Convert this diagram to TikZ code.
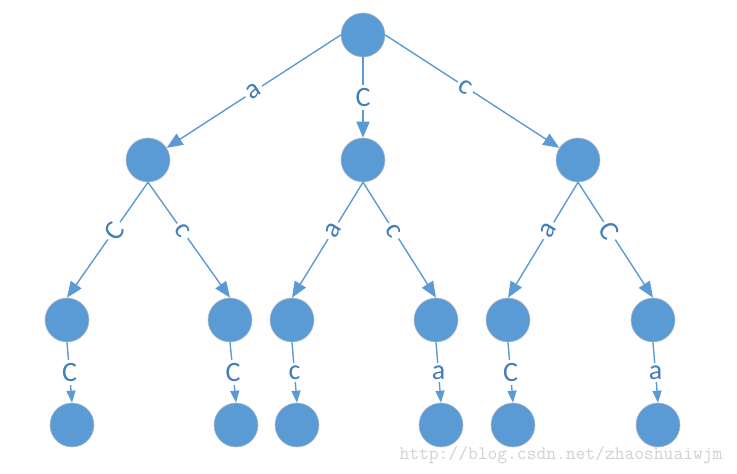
\documentclass[tikz,border=0pt]{standalone}
\usepackage{fontspec}
\setmainfont{Carlito}
\usetikzlibrary{arrows.meta}
\definecolor{nodeblue}{RGB}{91,155,213}
\definecolor{labelblue}{RGB}{66,125,188}
\definecolor{rimgray}{RGB}{175,185,200}
\tikzset{
  trienode/.style={circle,fill=nodeblue,draw=rimgray,line width=0.6pt,minimum size=44pt,inner sep=0pt},
  edge/.style={draw=nodeblue,line width=1.4pt,-{Triangle[length=16pt,width=13pt]}},
  sedge/.style={draw=nodeblue,line width=1.4pt,-{Triangle[length=12pt,width=9pt]}},
  lab/.style={fill=white,text=labelblue,inner sep=3pt,font=\fontsize{28}{32}\selectfont}
}
\begin{document}
\begin{tikzpicture}[x=1pt,y=1pt]
    \useasboundingbox (0,0) rectangle (737,474);
    % root and first level
    \node[trienode] (root) at (363,439) {};
    \node[trienode] (a) at (148,314) {};
    \node[trienode] (b) at (363,314) {};
    \node[trienode] (c) at (578,314) {};
    % second level
    \node[trienode] (a1) at (67,154) {};
    \node[trienode] (a2) at (230,154) {};
    \node[trienode] (b1) at (292,154) {};
    \node[trienode] (b2) at (436,154) {};
    \node[trienode] (c1) at (508,154) {};
    \node[trienode] (c2) at (653,154) {};
    % third level
    \node[trienode] (a1x) at (72,49) {};
    \node[trienode] (a2x) at (236,49) {};
    \node[trienode] (b1x) at (297,49) {};
    \node[trienode] (b2x) at (441,49) {};
    \node[trienode] (c1x) at (513,49) {};
    \node[trienode] (c2x) at (658,49) {};
    % edges from the root
    \draw[edge] (root.west) -- node[lab,sloped,pos=0.5] {a} (a);
    \draw[edge] (root.south) -- node[lab] {C} (b.north);
    \draw[edge] (root.east) -- node[lab,sloped,pos=0.46] {c} (c);
    % edges to the second level
    \draw[edge] (a.south) -- node[lab,sloped,pos=0.42] {C} (a1.north);
    \draw[edge] (a.south) -- node[lab,sloped,pos=0.42] {c} (a2.north);
    \draw[edge] (b.south) -- node[lab,sloped,pos=0.42] {a} (b1.north);
    \draw[edge] (b.south) -- node[lab,sloped,pos=0.42] {c} (b2.north);
    \draw[edge] (c.south) -- node[lab,sloped,pos=0.42] {a} (c1.north);
    \draw[edge] (c.south) -- node[lab,sloped,pos=0.42] {C} (c2.north);
    % edges to the third level
    \foreach \from/\to/\txt in {a1/a1x/C, a2/a2x/C, b1/b1x/c, b2/b2x/a, c1/c1x/C, c2/c2x/a}
    \draw[sedge] (\from.south) -- node[lab] {\txt} (\to.north);
    % watermark
    \node[text=black!18,font=\ttfamily\fontsize{19}{22}\selectfont,inner sep=0pt] (mark) at (561,19) {http://blog.csdn.net/zhaoshuaiwjm};
\end{tikzpicture}
\end{document}
